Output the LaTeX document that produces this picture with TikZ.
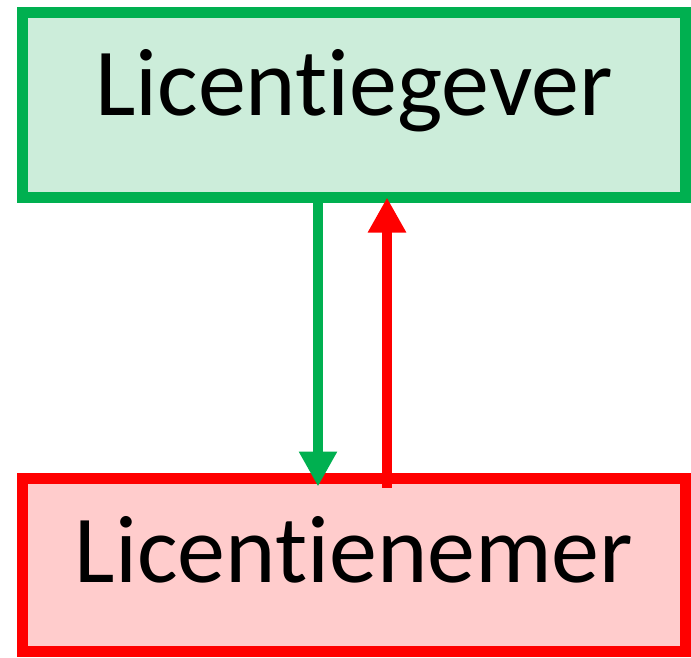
\documentclass[tikz,border=0pt]{standalone}
\usepackage{fontspec}
\setmainfont{Carlito}[Ligatures={NoCommon}]
\usetikzlibrary{arrows.meta,calc}
\definecolor{gline}{RGB}{0,176,80}
\definecolor{gfill}{RGB}{204,237,218}
\definecolor{rline}{RGB}{255,0,0}
\definecolor{rfill}{RGB}{255,204,204}
\tikzset{
  box/.style={draw, line width=11pt, minimum width=663pt, inner sep=0pt, outer sep=0pt,
    font=\fontsize{96}{110}\selectfont, text depth=20pt},
  conn/.style={line width=10pt, -{Triangle[width=36pt,length=35pt]}},
}
\begin{document}
\begin{tikzpicture}[x=1pt,y=-1pt]
\useasboundingbox (0,0) rectangle (691,657);
\node[box, draw=gline, fill=gfill, minimum height=185pt, text height=40pt] (giver) at (354,105) {Licentiegever};
\node[box, draw=rline, fill=rfill, minimum height=173pt, text height=54pt] (nemer) at (354,565) {Licentienemer};
\draw[conn, gline] ($(giver.south)+(-36,0)$) -- ($(nemer.north)+(-36,8)$);
\draw[conn, rline] ($(nemer.north)+(33,9)$) -- ($(giver.south)+(33,0)$);
\end{tikzpicture}
\end{document}
